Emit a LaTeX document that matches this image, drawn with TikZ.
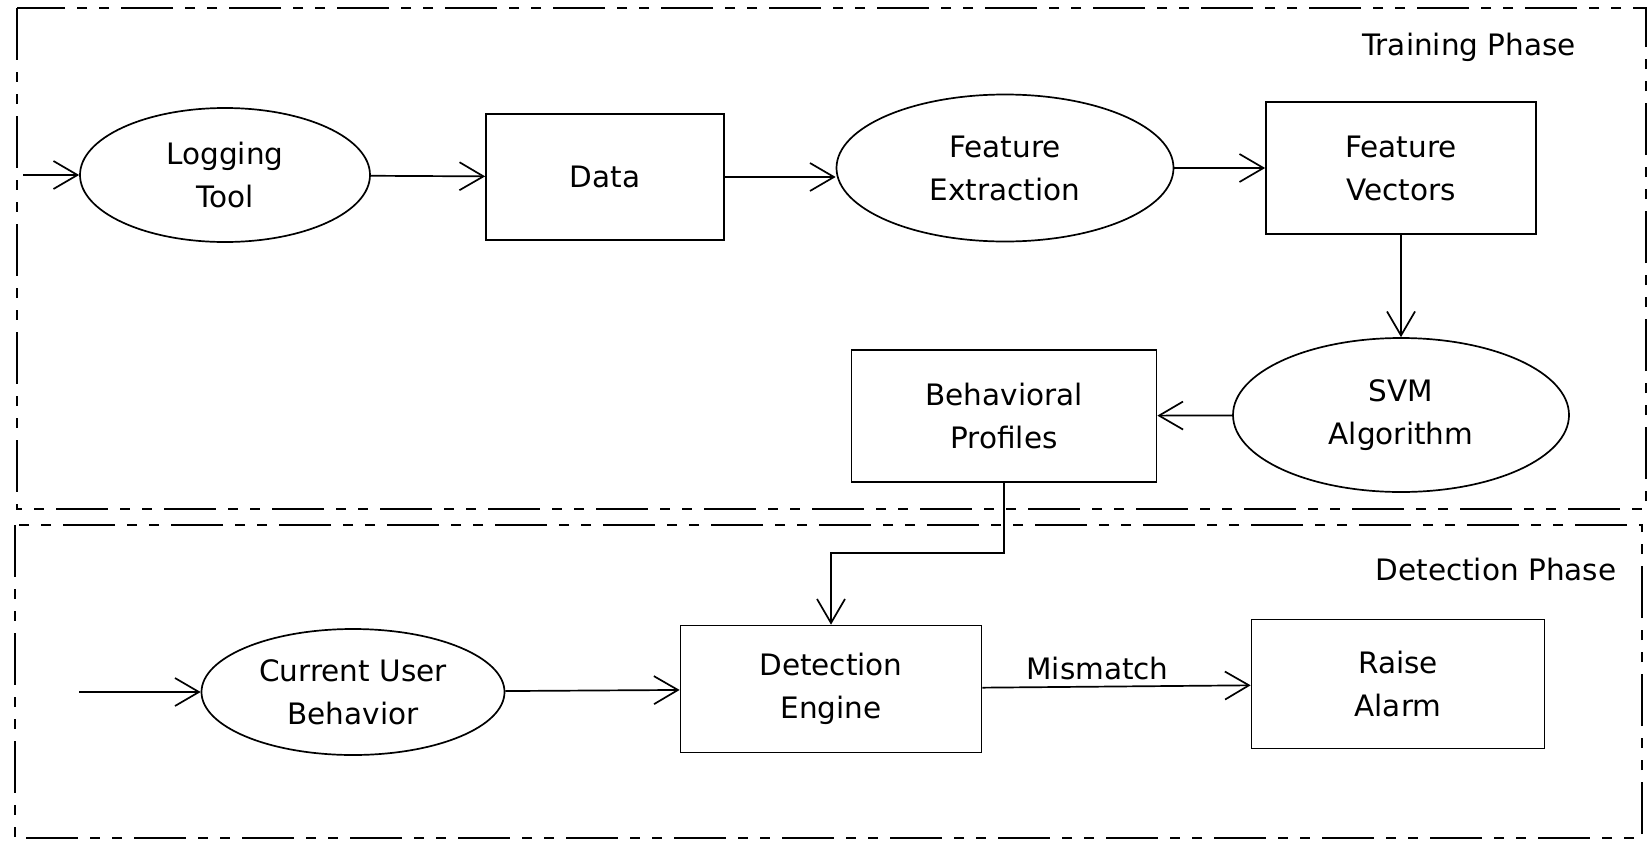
\documentclass[tikz,border=0pt]{standalone}
\usepackage{fontspec}
\setmainfont{DejaVu Sans}
\usepackage{tikz}
\usetikzlibrary{shapes.geometric}
\usetikzlibrary{positioning}
\usetikzlibrary{arrows.meta}
\tikzset{
every node/.style={ % Same text for every label
font=\fontsize{29.5}{43}\selectfont,
align=center},
blob/.style={ % Ellipses for tools and algorithms
ellipse,
draw,
line width=1.7pt,
inner sep=0pt},
store/.style={ % Boxes for data and results
rectangle,
draw,
line width=1.7pt,
inner sep=0pt},
phase/.style={ % Frame round each phase
line width=1.7pt,
dash pattern=on 52pt off 12pt on 10pt off 12pt on 10pt off 12pt},
flow/.style={ % Open barb on each transition
-{Straight Barb[length=24pt,width=28pt]},
line width=1.7pt},
every edge/.style={
draw,
flow}}

\begin{document}
\begin{tikzpicture}[x=1pt,y=-1pt]
\useasboundingbox (0,0) rectangle (1648,841);
% phases
\draw[phase] (17,8) rectangle (1646,509);
\draw[phase] (15,525) rectangle (1642,838);
\node (train) at (1469,47) {Training Phase};
\node (detect) at (1496,569) {Detection Phase};
% training
\node[blob , minimum width=290pt, minimum height=134pt] (log) at (225,175) {Logging\\Tool};
\node[store, minimum width=238pt, minimum height=126pt] (data) at (605,177) {Data};
\node[blob , minimum width=337pt, minimum height=147pt] (fext) at (1005,168) {Feature\\Extraction};
\node[store, minimum width=270pt, minimum height=132pt] (fvec) at (1401,168) {Feature\\Vectors};
\node[blob , minimum width=336pt, minimum height=154pt] (svm) at (1401,415) {SVM\\Algorithm};
\node[store, minimum width=305pt, minimum height=132pt] (prof) at (1004,416) {Behavioral\\Profiles};
% detection
\node[blob , minimum width=303pt, minimum height=126pt] (user) at (353,692) {Current User\\Behavior};
\node[store, minimum width=301pt, minimum height=127pt] (eng) at (831,689) {Detection\\Engine};
\node[store, minimum width=293pt, minimum height=129pt] (alarm) at (1398,684) {Raise\\Alarm};
\coordinate (in1) at (23,175);
\coordinate (in2) at (79,692);
\coordinate (drop) at (1004,553);
\draw (in1) edge[] (log) ;
\draw (log) edge[] (data) ;
\draw (data.east) edge[] (data.east -| fext.west) ;
\draw (fext) edge[] (fvec) ;
\draw (fvec) edge[] (svm) ;
\draw (svm) edge[] (prof) ;
\draw[flow] (prof.south) -- (drop) -| (eng.north) ;
\draw (in2) edge[] (user) ;
\draw (user) edge[] (eng) ;
\draw (eng) edge[] node[above=2pt, xshift=-19pt] {Mismatch} (alarm) ;
\end{tikzpicture}
\end{document}
